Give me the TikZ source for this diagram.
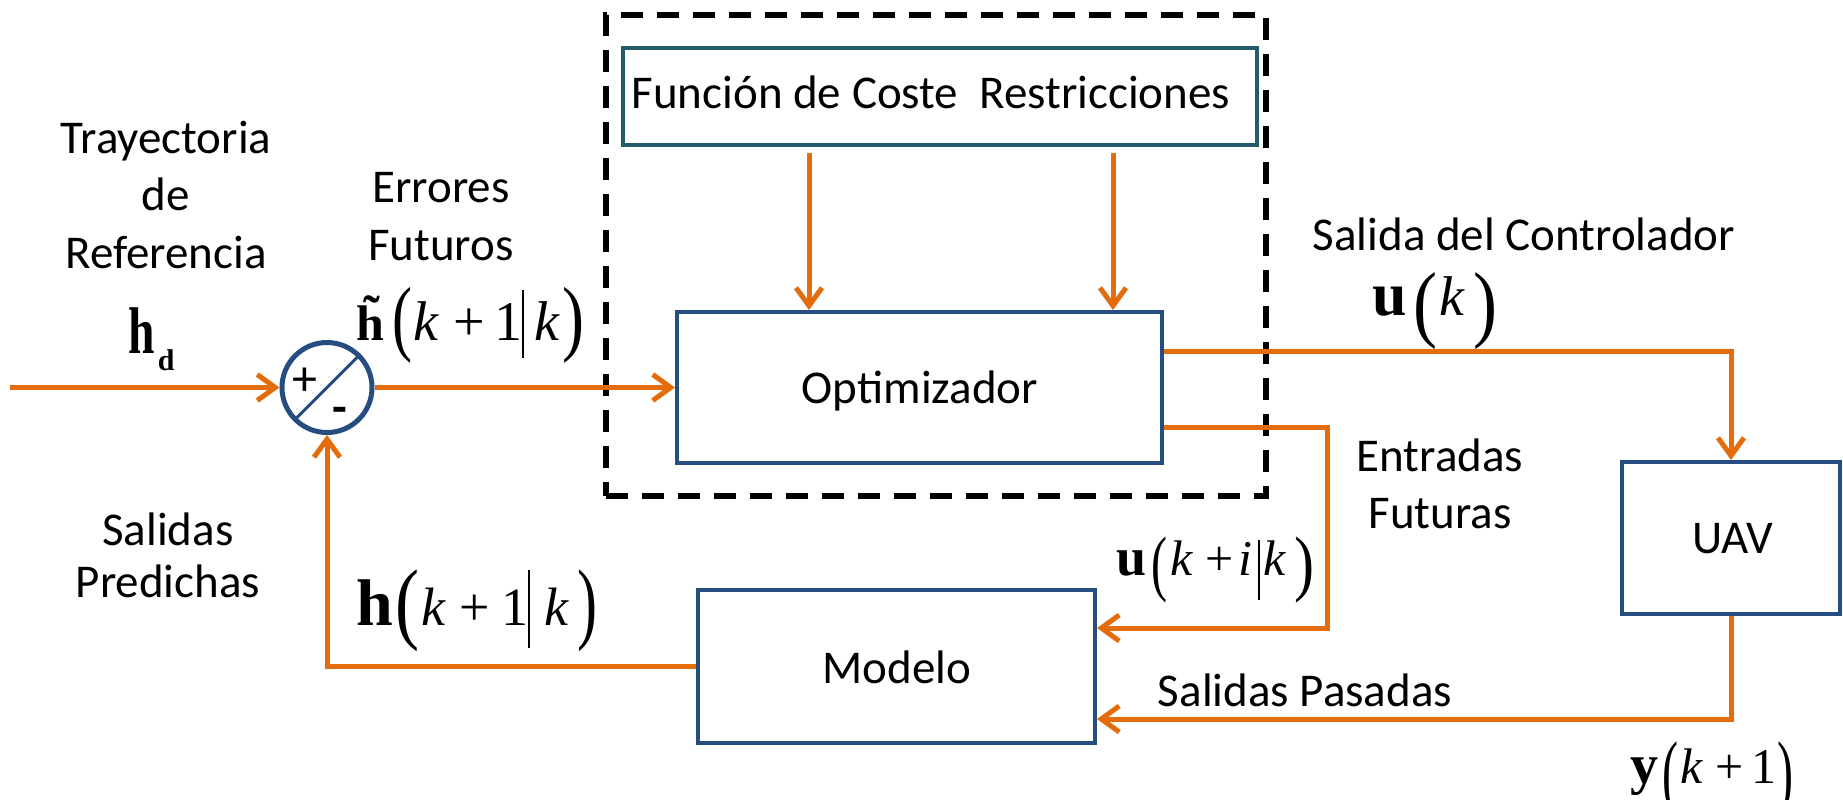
\documentclass[tikz,border=0pt]{standalone}
\usepackage{fontspec}
\usepackage{graphicx}
\setmainfont{Carlito}
\newfontfamily\tnr{Liberation Serif}
\usetikzlibrary{arrows.meta}

\definecolor{flowc}{RGB}{228,108,10}
\definecolor{boxc}{RGB}{37,77,128}
\definecolor{tealc}{RGB}{36,92,106}

% tall delimiter: width, total height, bottom offset, glyph
\newcommand{\tallfence}[4]{\raisebox{#3}{\resizebox{#1}{#2}{\raisebox{\depth}{#4}}}}
% conditioning bar: bottom offset, total height
\newcommand{\condbar}[2]{\rule[#1]{1pt}{#2}}

\begin{document}
\begin{tikzpicture}[x=0.5pt,y=-0.5pt,
  txt/.style={inner sep=0pt, anchor=base, font=\fontsize{23.5}{28}\selectfont},
  mth/.style={inner sep=0pt, anchor=base west},
  blockbox/.style={draw=boxc, line width=2pt, inner sep=0pt},
  costbox/.style={draw=tealc, line width=2pt, inner sep=0pt},
  frame/.style={draw=black, line width=2.7pt, dash pattern=on 11pt off 7pt, inner sep=0pt},
  sumnode/.style={circle, draw=boxc, line width=2.5pt, minimum size=45pt, inner sep=0pt},
  flow/.style={draw=flowc, line width=2.5pt},
  arr/.style={flow, -{Straight Barb[length=9pt,width=13pt]}}
]
\useasboundingbox (0,0) rectangle (1843,799);

% dashed frame around the optimisation stage
\node[frame, minimum width=330pt, minimum height=240.5pt] (mpc) at (936,255.5) {};

% blocks
\node[costbox, minimum width=317pt, minimum height=48.5pt] (cost) at (940,96.5) {};
\node[blockbox, minimum width=242.5pt, minimum height=75.5pt] (opt) at (919.5,387.5) {};
\node[blockbox, minimum width=198.5pt, minimum height=76.5pt] (mod) at (896.5,666.5) {};
\node[blockbox, minimum width=109pt, minimum height=76pt] (uav) at (1731,538) {};

% block captions, set on their baselines
\node[txt] (costtxt) at (931,108) {Función de Coste~~Restricciones};
\node[txt] (opttxt) at (920,403) {Optimizador};
\node[txt] (modtxt) at (897,683) {Modelo};
\node[txt] (uavtxt) at (1733,553) {UAV};

% summing junction
\node[sumnode] (sum) at (327,387.5) {};
\draw[boxc, line width=1.5pt, shorten <=1pt, shorten >=1pt] (sum.225) -- (sum.45);
\node[inner sep=0pt, font=\fontsize{25}{25}\selectfont] (plus) at ([xshift=-11pt,yshift=2.75pt]sum.center) {+};
\node[inner sep=0pt, font=\fontsize{24}{24}\selectfont\bfseries] (minus) at ([xshift=6.5pt,yshift=-14pt]sum.center) {-};

% connectors
\coordinate (src) at (10,387.5);
\draw[arr] (src) -- (sum.west);
\draw[arr] (sum.east) -- (opt.west);

\coordinate (ca) at ([xshift=67pt]opt.north west);
\coordinate (cb) at ([xshift=-25.5pt]opt.north east);
\draw[arr, shorten <=3pt] (cost.south -| ca) -- (ca);
\draw[arr, shorten <=3pt] (cost.south -| cb) -- (cb);

\draw[arr] ([yshift=18pt]opt.east) -| (uav.north);
\draw[arr] ([yshift=-20pt]opt.east) -- ++(81.5pt,0) |- ([yshift=19.25pt]mod.east);
\draw[arr] (uav.south) |- ([yshift=-26.25pt]mod.east);
\draw[arr] (mod.west) -| (sum.south);

% text labels
\node[txt] (t1) at (166,153) {Trayectoria};
\node[txt] (t2) at (166,210) {de};
\node[txt] (t3) at (166,268) {Referencia};
\node[txt] (e1) at (441,202) {Errores};
\node[txt] (e2) at (441,260) {Futuros};
\node[txt] (sc) at (1524,250) {Salida del Controlador};
\node[txt] (f1) at (1440,471) {Entradas};
\node[txt] (f2) at (1440,528) {Futuras};
\node[txt] (sp) at (1305,706) {Salidas Pasadas};
\node[txt] (p1) at (168,545) {Salidas};
\node[txt] (p2) at (168,597) {Predichas};

% signal symbols
\node[mth, font=\tnr] (href) at (128,353)
  {{\fontsize{33}{33}\selectfont\bfseries\scalebox{0.72}[1]{h}}\hspace{1.5pt}\raisebox{-8.5pt}{\fontsize{15}{15}\selectfont\bfseries d}};
\node[mth, font=\tnr\fontsize{28}{28}\selectfont] (herr) at (356,340)
  {{\fontsize{25}{25}\selectfont\bfseries\~{h}}\hspace{4.3pt}\tallfence{10pt}{38pt}{-11.5pt}{(}\hspace{0.5pt}\textit{k}\hspace{7pt}+\hspace{4.5pt}1\condbar{-9pt}{34pt}\hspace{5pt}\textit{k}\hspace{1.5pt}\tallfence{11pt}{38pt}{-11.5pt}{)}};
\node[mth, font=\tnr\fontsize{27}{27}\selectfont] (hpred) at (356,625)
  {{\fontsize{33}{33}\selectfont\bfseries h}\hspace{1pt}\tallfence{12pt}{41pt}{-13.5pt}{(}\hspace{1pt}\textit{k}\hspace{7pt}+\hspace{5.5pt}1\condbar{-11.5pt}{39pt}\hspace{7pt}\textit{k}\hspace{4pt}\tallfence{10pt}{41pt}{-13.5pt}{)}};
\node[mth, font=\tnr\fontsize{28}{28}\selectfont] (uk) at (1372,315)
  {{\fontsize{31}{31}\selectfont\bfseries u}\hspace{3.5pt}\tallfence{12pt}{38.5pt}{-17.5pt}{(}\hspace{1pt}\textit{k}\hspace{4pt}\tallfence{12pt}{38.5pt}{-17.5pt}{)}};
\node[mth, font=\tnr\fontsize{25}{25}\selectfont] (ufut) at (1116,575)
  {{\fontsize{27}{27}\selectfont\bfseries u}\hspace{2.5pt}\tallfence{8pt}{33pt}{-14pt}{(}\hspace{1.5pt}\textit{k}\hspace{6pt}+\hspace{2.5pt}\textit{i}\hspace{3pt}\condbar{-12.5pt}{30pt}\hspace{1.5pt}\textit{k}\hspace{4pt}\tallfence{10pt}{33pt}{-14pt}{)}};
\node[mth, font=\tnr\fontsize{25}{25}\selectfont] (ynext) at (1630,783)
  {{\fontsize{28}{28}\selectfont\bfseries y}\hspace{2.2pt}\tallfence{8pt}{38.5pt}{-18pt}{(}\hspace{1pt}\textit{k}\hspace{6pt}+\hspace{4pt}1\hspace{0.5pt}\tallfence{8pt}{38.5pt}{-18pt}{)}};
\end{tikzpicture}
\end{document}
